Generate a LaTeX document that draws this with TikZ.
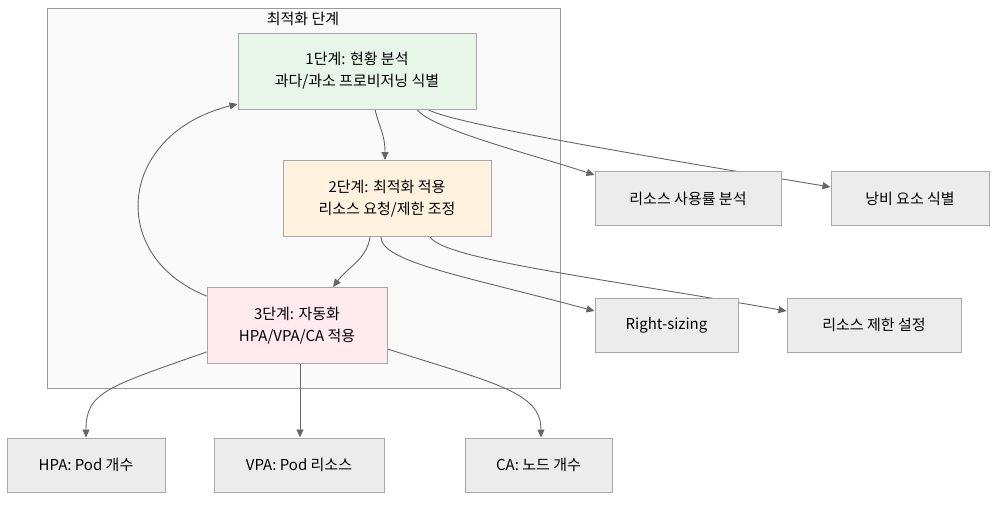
\documentclass[tikz,border=0pt]{standalone}
\usepackage{fontspec}
\setmainfont{Noto Sans CJK KR}
\usetikzlibrary{arrows.meta}
\definecolor{clusterfill}{HTML}{FAFAFA}
\definecolor{clusterline}{HTML}{9A9A9A}
\definecolor{boxline}{HTML}{A8A8A8}
\definecolor{stepgreen}{HTML}{E8F5E9}
\definecolor{steporange}{HTML}{FFF3E0}
\definecolor{steppink}{HTML}{FFEBEE}
\definecolor{boxgray}{HTML}{ECECEC}
\definecolor{edgecol}{HTML}{666666}
\pgfdeclarelayer{bg}
\pgfdeclarelayer{edges}
\pgfsetlayers{bg,edges,main}
\tikzset{
  basebox/.style={draw=boxline, line width=1pt, rectangle, align=center,
    inner sep=0pt, font=\fontsize{15}{22}\selectfont, text=black},
  stagebox/.style={basebox, minimum height=76pt},
  itembox/.style={basebox, fill=boxgray, minimum height=54pt},
  edge/.style={draw=edgecol, line width=0.9pt,
    -{Triangle[length=8pt,width=7pt]}},
}
\begin{document}
\begin{tikzpicture}[x=1pt,y=-1pt]
\useasboundingbox (0,0) rectangle (1004,504);

% stage nodes inside the cluster
\node[stagebox, fill=stepgreen, minimum width=238pt] (s1) at (357,71)
  {1단계: 현황 분석\\과다/과소 프로비저닝 식별};
\node[stagebox, fill=steporange, minimum width=208pt] (s2) at (387,198.5)
  {2단계: 최적화 적용\\리소스 요청/제한 조정};
\node[stagebox, fill=steppink, minimum width=180pt] (s3) at (297,325.5)
  {3단계: 자동화\\HPA/VPA/CA 적용};

% outer item nodes
\node[itembox, minimum width=186pt] (usage) at (688,198.5) {리소스 사용률 분석};
\node[itembox, minimum width=158pt] (waste) at (910,198.5) {낭비 요소 식별};
\node[itembox, minimum width=143pt] (rsz) at (666.5,325) {Right-sizing};
\node[itembox, minimum width=174pt] (lim) at (874,325) {리소스 제한 설정};
\node[itembox, minimum width=158pt] (hpa) at (86,465) {HPA: Pod 개수};
\node[itembox, minimum width=170pt] (vpa) at (299,465) {VPA: Pod 리소스};
\node[itembox, minimum width=147pt] (ca) at (538.5,465) {CA: 노드 개수};

% cluster frame and title
\begin{pgfonlayer}{bg}
  \draw[draw=clusterline, fill=clusterfill, line width=1pt] (47,8) rectangle (560,388);
  \node[font=\fontsize{15}{16}\selectfont, inner sep=0pt] (ctitle) at (303,19) {최적화 단계};
\end{pgfonlayer}

% connectors
\begin{pgfonlayer}{edges}
  \draw[edge] ([xshift=18pt]s1.south) .. controls +(5,20) and +(0,-25) .. ([xshift=-2pt]s2.north);
  \draw[edge] ([xshift=60pt]s1.south) .. controls +(15,20) and +(-60,-20) .. ([yshift=-4pt]usage.north west);
  \draw[edge] ([xshift=71pt]s1.south) .. controls +(25,15) and +(-150,-25) .. ([yshift=11.5pt]waste.west);
  \draw[edge] ([xshift=-17pt]s2.south) .. controls +(-3,22) and +(15,-20) .. ([xshift=36pt]s3.north);
  \draw[edge] ([xshift=-6pt]s2.south) .. controls +(0,25) and +(-130,-35) .. ([yshift=14pt]rsz.west);
  \draw[edge] ([xshift=43pt]s2.south) .. controls +(15,22) and +(-200,-35) .. ([yshift=14pt]lim.west);
  \draw[edge] ([yshift=29.5pt]s3.west) .. controls +(-100,-40) and +(-120,30) .. ([yshift=-33pt]s1.west);
  \draw[edge] ([yshift=-26.5pt]s3.west) .. controls +(-100,35) and +(0,-45) .. (hpa.north);
  \draw[edge] ([xshift=3pt]s3.south) -- ([xshift=1pt]vpa.north);
  \draw[edge] ([yshift=-23.5pt]s3.east) .. controls +(110,35) and +(0,-45) .. ([xshift=2.5pt]ca.north);
\end{pgfonlayer}
\end{tikzpicture}
\end{document}
